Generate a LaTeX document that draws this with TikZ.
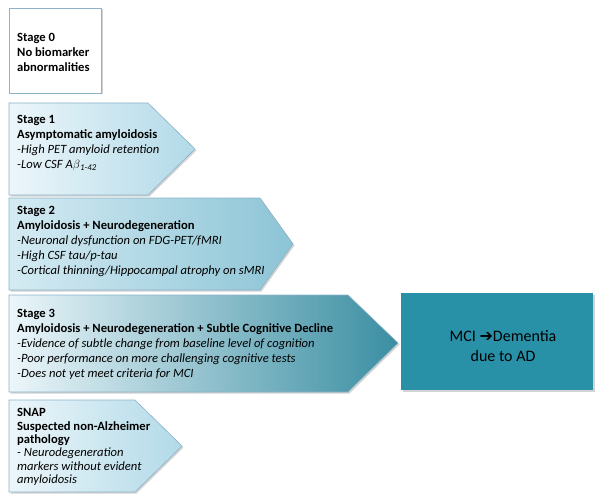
\documentclass[tikz,border=0pt]{standalone}
\usepackage{fontspec}
\setmainfont{Carlito}
\newfontfamily\symfont{DejaVu Sans}
\usetikzlibrary{shadows}
\definecolor{edgeblue}{RGB}{140,178,200}
\definecolor{paleblue}{RGB}{236,246,250}
\definecolor{lightblue}{RGB}{178,218,232}
\definecolor{midblue}{RGB}{140,196,214}
\definecolor{stageteal}{RGB}{58,142,162}
\definecolor{mciteal}{RGB}{40,145,168}
\tikzset{
  stagebox/.style={draw=edgeblue, line width=0.6pt, drop shadow={shadow xshift=1.5pt, shadow yshift=-1.5pt, opacity=0.35}},
  stagetext/.style={anchor=west, align=left, inner sep=0pt, font=\fontsize{12.6}{15}\selectfont},
}
\begin{document}
\begin{tikzpicture}[x=1pt,y=-1pt]
\useasboundingbox (0,0) rectangle (603,503);
% stage shapes
\path[stagebox, fill=white] (9,8) rectangle (101,93);
\shade[stagebox, left color=paleblue, right color=lightblue] (9,103) -- (148,103) -- (195,149) -- (148,195) -- (9,195) -- cycle;
\shade[stagebox, left color=paleblue!60!lightblue, right color=midblue] (9,198) -- (260,198) -- (293,244) -- (260,290) -- (9,290) -- cycle;
\shade[stagebox, left color=paleblue, right color=stageteal] (9,295) -- (348,295) -- (398,343) -- (348,392) -- (9,392) -- cycle;
\shade[stagebox, left color=paleblue, right color=lightblue] (9,400) -- (135,400) -- (182,446) -- (135,492) -- (9,492) -- cycle;
\path[fill=mciteal, drop shadow={shadow xshift=1.5pt, shadow yshift=-1.5pt, opacity=0.35}] (401,293) rectangle (593,390);
% stage texts
\node[stagetext] (s0) at (17,52) {\textbf{Stage 0}\\\textbf{No biomarker}\\\textbf{abnormalities}};
\node[stagetext] (s1) at (17,143) {\textbf{Stage 1}\\\textbf{Asymptomatic amyloidosis}\\\textit{-High PET amyloid retention}\\\textit{-Low CSF A$\beta$\textsubscript{1-42}}};
\node[stagetext] (s2) at (17,241) {\textbf{Stage 2}\\\textbf{Amyloidosis + Neurodegeneration}\\\textit{-Neuronal dysfunction on FDG-PET/fMRI}\\\textit{-High CSF tau/p-tau}\\\textit{-Cortical thinning/Hippocampal atrophy on sMRI}};
\node[stagetext] (s3) at (17,344) {\textbf{Stage 3}\\\textbf{Amyloidosis + Neurodegeneration + Subtle Cognitive Decline}\\\textit{-Evidence of subtle change from baseline level of cognition}\\\textit{-Poor performance on more challenging cognitive tests}\\\textit{-Does not yet meet criteria for MCI}};
\node[stagetext, font=\fontsize{12.6}{13.4}\selectfont] (snap) at (17,447) {\textbf{SNAP}\\\textbf{Suspected non-Alzheimer}\\\textbf{pathology}\\\textit{- Neurodegeneration}\\\textit{markers without evident}\\\textit{amyloidosis}};
\node[align=center, font=\fontsize{16}{20}\selectfont] (mci) at (503,346) {MCI {\symfont\char"2794}Dementia\\due to AD};
\end{tikzpicture}
\end{document}
